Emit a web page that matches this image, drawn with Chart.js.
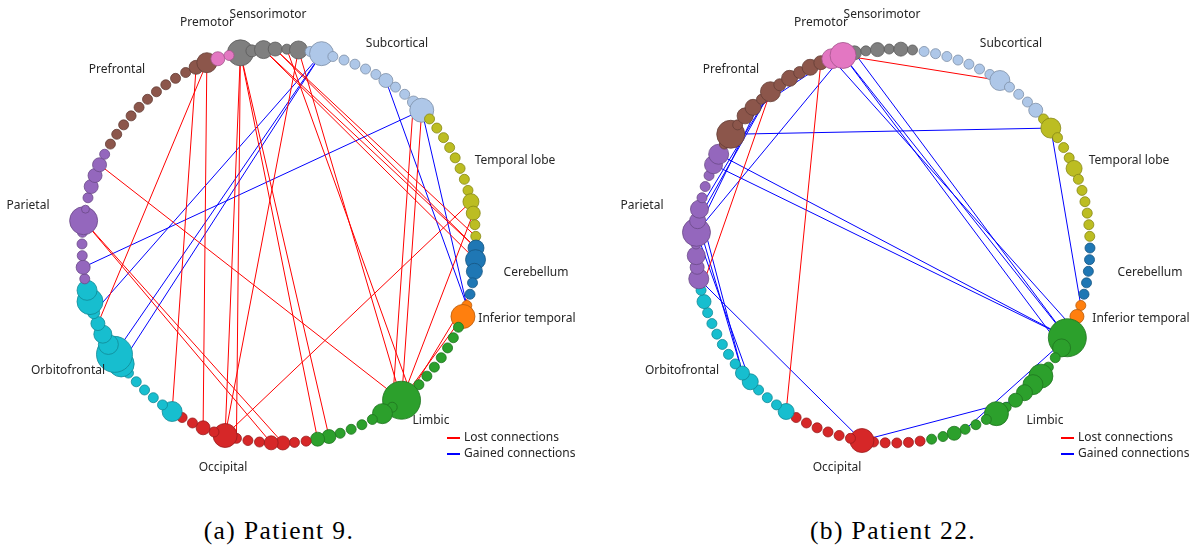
<!DOCTYPE html>
<html>
<head>
<meta charset="utf-8">
<script src="https://cdn.jsdelivr.net/npm/chart.js@4.4.1/dist/chart.umd.min.js"></script>
<style>
  html, body { margin: 0; padding: 0; background: #fff; }
  body { width: 1202px; height: 548px; position: relative; overflow: hidden; }
  .panel { position: absolute; top: 0; width: 601px; height: 500px; }
  .caption { position: absolute; top: 516px; width: 300px; text-align: center;
             font-family: "Liberation Serif", "Times New Roman", serif; font-size: 25.5px;
             letter-spacing: 1.4px; color: #000; }
</style>
</head>
<body>
<div class="panel" style="left:0"><canvas id="p9" width="601" height="500"></canvas></div>
<div class="panel" style="left:601px"><canvas id="p22" width="601" height="500"></canvas></div>
<div class="caption" style="left:129px">(a) Patient 9.</div>
<div class="caption" style="left:743px">(b) Patient 22.</div>

<script>
// ---- Brain regions, in clockwise order round the ring (starting at Sensorimotor) ----
const REGION_NAMES  = ['Sensorimotor', 'Subcortical', 'Temporal lobe', 'Cerebellum', 'Inferior temporal',
                       'Limbic', 'Occipital', 'Orbitofrontal', 'Parietal', 'Prefrontal', 'Premotor'];
const REGION_COUNTS = [6, 12, 12, 5, 2, 17, 12, 14, 12, 12, 2];
const REGION_COLORS = ['#7f7f7f', '#aec7e8', '#bcbd22', '#1f77b4', '#ff7f0e',
                       '#2ca02c', '#d62728', '#17becf', '#9467bd', '#8c564b', '#e377c2'];

// ---- Node sizes (bubble radius) per node, grouped by region ----
const NODE_SIZE_P9 = [
  13, 6, 9, 7, 5, 9,                                   // Sensorimotor
  5, 12, 5, 5, 5, 5, 5, 7, 5, 5, 6, 12,                // Subcortical
  5, 5, 5, 5, 5, 5, 5, 5, 8, 7, 5, 5,                  // Temporal lobe
  8, 10, 8, 5, 5,                                      // Cerebellum
  5, 12,                                               // Inferior temporal
  5, 5, 5, 5, 5, 5, 5, 5, 19, 5, 10, 5, 5, 5, 5, 7, 7, // Limbic
  5, 5, 7, 7, 5, 5, 5, 12, 5, 7, 5, 5,                 // Occipital
  10, 5, 5, 5, 5, 5, 13, 18, 10, 9, 7, 6, 13, 10,      // Orbitofrontal
  5, 7, 5, 5, 5, 14, 4, 5, 7, 7, 7, 5,                 // Parietal
  5, 5, 5, 5, 5, 5, 5, 5, 5, 5, 7, 10,                 // Prefrontal
  7, 5                                                 // Premotor
];
const NODE_SIZE_P22 = [
  7, 5, 7, 5, 7, 5,                                    // Sensorimotor
  5, 5, 5, 5, 5, 5, 5, 10, 5, 5, 5, 7,                 // Subcortical
  5, 10, 5, 5, 5, 8, 5, 5, 5, 5, 5, 5,                 // Temporal lobe
  5, 5, 5, 5, 5,                                       // Cerebellum
  5, 7,                                                // Inferior temporal
  5, 19, 9, 5, 5, 12, 10, 8, 7, 5, 12, 5, 5, 5, 7, 5, 5, // Limbic
  5, 5, 5, 5, 5, 12, 5, 5, 5, 5, 5, 5,                 // Occipital
  8, 5, 5, 5, 8, 7, 5, 5, 5, 5, 5, 5, 7, 5,            // Orbitofrontal
  10, 7, 9, 5, 14, 8, 9, 5, 5, 5, 9, 10,               // Parietal
  5, 14, 5, 8, 8, 5, 10, 6, 8, 6, 8, 7,                // Prefrontal
  10, 13                                               // Premotor
];

// ---- Connections as [node, node] index pairs ----
const LOST_P9 = [
  [90, 45], [85, 57], [85, 56], [102, 66], [103, 63], [103, 76],
  [0, 61], [0, 60], [0, 53], [0, 52], [5, 61], [5, 45], [4, 44],
  [2, 31], [2, 30], [3, 30], [3, 29], [26, 61], [27, 45], [17, 45], [16, 46],
  [36, 45], [34, 44]
];
const GAINED_P9 = [
  [7, 77], [7, 73], [7, 72], [17, 81], [13, 35], [17, 35]
];
const LOST_P22 = [
  [105, 13], [103, 66], [98, 79]
];
const GAINED_P22 = [
  [105, 84], [97, 84], [98, 85], [98, 86], [104, 95], [93, 19], [90, 38], [91, 38],
  [105, 38], [105, 39], [0, 38], [104, 37], [84, 70], [85, 71], [86, 71],
  [80, 59], [59, 45], [50, 38], [19, 35]
];

const LEGEND_LABELS = ['Lost connections', 'Gained connections'];
const LOST_COLOR = '#ff0000';
const GAINED_COLOR = '#0000ff';

// ---- Ring layout ----
const RING_R = 197;          // ring radius in px
const START_DEG = -11.3;     // angle of the first node, clockwise from 12 o'clock
const CENTER_Y = 246;
// region label offsets from the ring centre (px) — [dx, dy]
const LABEL_OFFSETS = [
  [-11, -231], [118, -202], [236, -85], [257, 27], [248, 73],
  [152, 175], [-56, 222], [-211, 125], [-251, -40], [-162, -176], [-72, -223]
];

const TOTAL = REGION_COUNTS.reduce((a, b) => a + b, 0);
const STEP = 360 / TOTAL;

const nodeRegion = [];
REGION_COUNTS.forEach((n, k) => { for (let i = 0; i < n; i++) nodeRegion.push(k); });

function nodePos(i) {
  const t = (START_DEG + i * STEP) * Math.PI / 180;
  return { x: Math.sin(t), y: Math.cos(t) };
}

function darker(hex, f) {
  const n = parseInt(hex.slice(1), 16);
  const r = Math.round(((n >> 16) & 255) * f), g = Math.round(((n >> 8) & 255) * f), b = Math.round((n & 255) * f);
  return `rgb(${r},${g},${b})`;
}

const ringText = {
  id: 'ringText',
  afterDraw(chart) {
    const ctx = chart.ctx;
    const cx = chart.scales.x.getPixelForValue(0);
    const cy = chart.scales.y.getPixelForValue(0);
    ctx.save();
    ctx.font = '12px "Noto Sans", "DejaVu Sans", sans-serif';
    ctx.fillStyle = '#262626';
    ctx.textBaseline = 'middle';
    ctx.textAlign = 'center';
    REGION_NAMES.forEach((name, k) => {
      const [dx, dy] = LABEL_OFFSETS[k];
      ctx.fillText(name, cx + dx, cy + dy);
    });
    // legend
    const lx = cx + 168, ly = cy + 192;
    [LOST_COLOR, GAINED_COLOR].forEach((c, k) => {
      const y = ly + k * 16;
      ctx.strokeStyle = c;
      ctx.lineWidth = 2;
      ctx.beginPath();
      ctx.moveTo(lx, y);
      ctx.lineTo(lx + 13, y);
      ctx.stroke();
      ctx.textAlign = 'left';
      ctx.fillText(LEGEND_LABELS[k], lx + 17, y);
    });
    ctx.restore();
  }
};

function buildRing(canvasId, sizes, lost, gained, centerX) {
  const W = 601, H = 500;
  const edge = (pair, color) => ({
    type: 'line',
    data: [nodePos(pair[0]), nodePos(pair[1])],
    borderColor: color,
    backgroundColor: color,
    pointBackgroundColor: color,
    pointBorderColor: color,
    borderWidth: 1,
    pointRadius: 0,
    pointHoverRadius: 0,
    tension: 0,
    fill: false,
    clip: false,
    order: 1
  });
  const datasets = [];
  lost.forEach(p => datasets.push(edge(p, LOST_COLOR)));
  gained.forEach(p => datasets.push(edge(p, GAINED_COLOR)));
  datasets.push({
    type: 'bubble',
    data: sizes.map((r, i) => Object.assign(nodePos(i), { r })),
    backgroundColor: nodeRegion.map(k => REGION_COLORS[k]),
    borderColor: nodeRegion.map(k => darker(REGION_COLORS[k], 0.72)),
    borderWidth: 0.8,
    hoverRadius: 0,
    clip: false,
    order: 0
  });
  return new Chart(document.getElementById(canvasId), {
    type: 'bubble',
    data: { datasets },
    options: {
      responsive: false,
      devicePixelRatio: 1,
      animation: false,
      layout: { padding: 0, autoPadding: false },
      events: [],
      scales: {
        x: { type: 'linear', display: false, min: -centerX / RING_R, max: (W - centerX) / RING_R },
        y: { type: 'linear', display: false, min: -(H - CENTER_Y) / RING_R, max: CENTER_Y / RING_R }
      },
      plugins: { legend: { display: false }, tooltip: { enabled: false } }
    },
    plugins: [ringText]
  });
}

buildRing('p9', NODE_SIZE_P9, LOST_P9, GAINED_P9, 279);
buildRing('p22', NODE_SIZE_P22, LOST_P22, GAINED_P22, 292);
</script>
</body>
</html>
